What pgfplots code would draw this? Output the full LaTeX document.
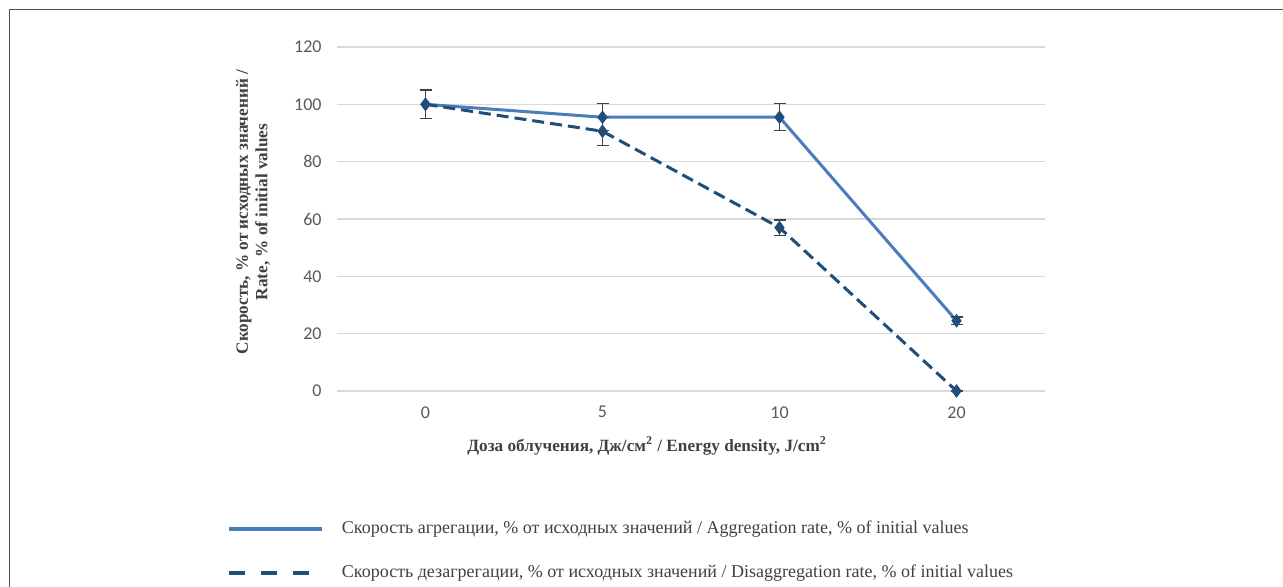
\documentclass[border=0pt]{standalone}
\usepackage{pgfplots}
\pgfplotsset{compat=1.18}
\usepackage{fontspec}
\setmainfont{Liberation Serif}
\newfontfamily\carlito{Carlito}
\definecolor{lineA}{HTML}{4A7EBB}
\definecolor{lineB}{HTML}{1F4E79}
\definecolor{markC}{HTML}{1F4E79}
\definecolor{errC}{HTML}{404040}
\definecolor{tickC}{HTML}{595959}
\definecolor{txtC}{HTML}{404040}
\definecolor{gridC}{HTML}{D9D9D9}
\definecolor{frameC}{HTML}{505050}
\begin{document}
\begin{tikzpicture}[x=0.5pt,y=0.5pt]
\path[use as bounding box] (0,0) rectangle (1283,587);
\draw[frameC, line width=0.8pt] (9.5,0) -- (9.5,577.5) -- (1283,577.5);
\begin{axis}[
  at={(168.5pt,98pt)}, anchor=south west,
  scale only axis, width=354pt, height=172pt,
  xmin=-0.5, xmax=3.5, ymin=0, ymax=120,
  xtick={0,1,2,3}, xticklabels={0,5,10,20},
  ytick={0,20,40,60,80,100,120},
  axis line style={draw=none},
  major tick style={draw=none},
  ymajorgrids, grid style={gridC, line width=0.75pt},
  /pgf/number format/assume math mode=true,
  tick label style={font=\carlito\fontsize{9}{10}\selectfont, text=tickC},
  yticklabel style={anchor=east, inner sep=0pt, xshift=-7.5pt},
  xticklabel style={anchor=north, inner sep=0pt, yshift=-7.5pt},
  xlabel={Доза облучения, Дж/см\textsuperscript{2} / Energy density, J/cm\textsuperscript{2}},
  xlabel style={font=\bfseries\fontsize{8.6}{10}\selectfont, text=txtC, at={(axis description cs:0.438,-0.16)}, anchor=center},
  ylabel={Скорость, \% от исходных значений /\\Rate, \% of initial values},
  ylabel style={font=\bfseries\fontsize{8.6}{9.8}\selectfont, text=txtC, align=center, at={(axis description cs:-0.1186,0.52)}, anchor=center},
  legend image code/.code={\draw[#1] (0pt,0pt) -- (46.5pt,0pt);},
  legend style={at={(axis description cs:-0.1554,-0.3724)}, anchor=north west, draw=none, fill=none,
    font=\fontsize{9}{10.5}\selectfont, text=txtC, row sep=12pt, column sep=8pt, inner sep=0pt, outer sep=0pt,
    nodes={inner sep=1pt}},
  legend cell align=left,
  clip=false,
]
\addlegendimage{lineA, line width=2pt}
\addlegendentry{Скорость агрегации, \% от исходных значений / Aggregation rate, \% of initial values}
\addlegendimage{lineB, line width=2pt, dash pattern=on 8pt off 8pt}
\addlegendentry{Скорость дезагрегации, \% от исходных значений / Disaggregation rate, \% of initial values}

\addplot[forget plot, lineA, line width=1.5pt, mark=diamond*, mark size=2.2pt,
  mark options={solid, fill=markC, draw=markC},
  error bars/.cd, y dir=both, y explicit,
  error bar style={errC, line width=0.7pt, solid},
  error mark options={errC, rotate=90, mark size=3pt, line width=0.7pt}]
  coordinates {(0,100) +- (0,5) (1,95.5) +- (0,4.7) (2,95.5) +- (0,4.7) (3,24.5) +- (0,1.3)};
\addplot[forget plot, lineB, line width=1.5pt, dash pattern=on 6pt off 3pt, mark=diamond*, mark size=2.2pt,
  mark options={solid, fill=markC, draw=markC},
  error bars/.cd, y dir=both, y explicit,
  error bar style={errC, line width=0.7pt, solid},
  error mark options={errC, rotate=90, mark size=3pt, line width=0.7pt}]
  coordinates {(0,100) +- (0,5) (1,90.6) +- (0,4.9) (2,57) +- (0,2.7) (3,0) +- (0,0)};
\end{axis}
\end{tikzpicture}
\end{document}
